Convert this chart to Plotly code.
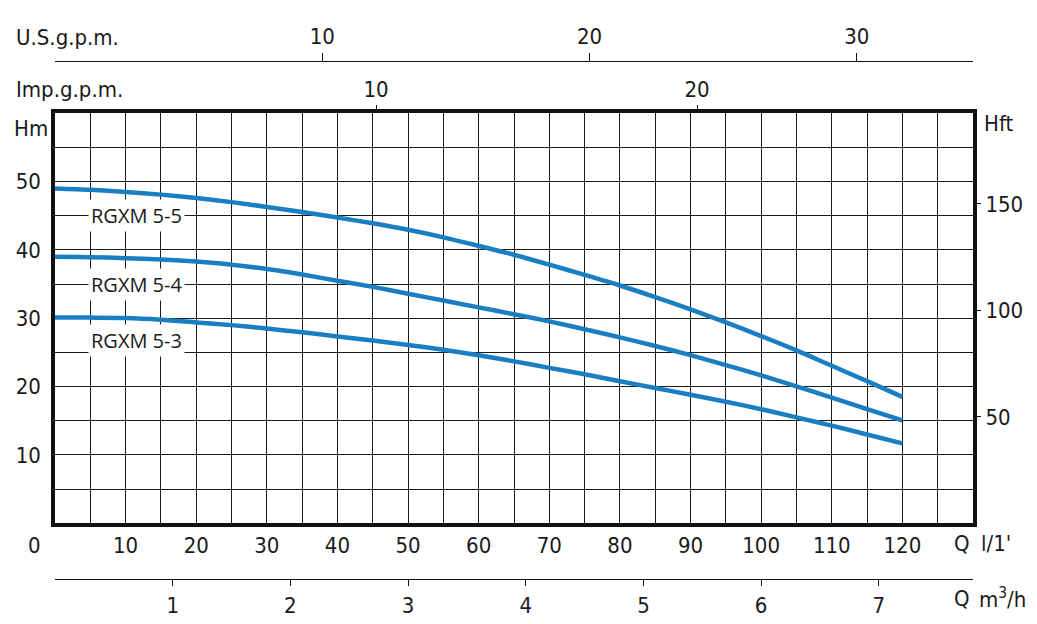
import plotly.graph_objects as go

# ---------------- data ----------------
Q_LMIN = [0, 5, 10, 15, 20, 25, 30, 35, 40, 45, 50, 55, 60, 65, 70, 75, 80, 85, 90, 95, 100, 105, 110, 115, 120]
H_55 = [49.0, 48.8, 48.5, 48.1, 47.6, 47.0, 46.3, 45.55, 44.75, 43.9, 42.95, 41.85, 40.6, 39.3, 37.85, 36.35, 34.8, 33.1, 31.3, 29.4, 27.4, 25.3, 23.05, 20.8, 18.5]
H_54 = [39.0, 38.95, 38.8, 38.6, 38.3, 37.85, 37.2, 36.4, 35.5, 34.6, 33.6, 32.6, 31.6, 30.6, 29.55, 28.4, 27.2, 25.95, 24.6, 23.15, 21.65, 20.05, 18.4, 16.7, 15.05]
H_53 = [30.1, 30.1, 30.05, 29.8, 29.4, 29.0, 28.5, 27.95, 27.35, 26.75, 26.1, 25.4, 24.6, 23.7, 22.75, 21.8, 20.8, 19.8, 18.8, 17.8, 16.7, 15.5, 14.3, 13.0, 11.7]
SERIES_NAMES = ["RGXM 5-5", "RGXM 5-4", "RGXM 5-3"]
LABEL_X = [11.6, 11.6, 11.6]
LABEL_Y = [45.0, 35.0, 26.7]

Q_LABELS = [10, 20, 30, 40, 50, 60, 70, 80, 90, 100, 110, 120]
HM_LABELS = [10, 20, 30, 40, 50]
HFT_TICKS = [50, 100, 150]
USGPM_TICKS = [10, 20, 30]
IMPGPM_TICKS = [10, 20]
M3H_TICKS = [1, 2, 3, 4, 5, 6, 7]

Q_MAX = 130          # l/min
H_MAX = 60           # m
HFT_MAX = 192.5      # ft at top of plot
US_GAL = 3.785
IMP_GAL = 4.546

# ---------------- style ----------------
W, H = 1037, 624
ML, MR = 55, 64
PLOT_TOP, PLOT_BOT = 113.3, 523.3
NUMFONT = dict(family="DejaVu Sans Condensed, DejaVu Sans", size=22, color="#1a1a1a")
LBLFONT = dict(family="Open Sans, Noto Sans", size=20, color="#1a1a1a")
BLUE = "#1a7ec3"
GRID = "#1a1a1a"
PW = W - ML - MR


def px(xp):
    return (xp - ML) / PW


def py(yp):
    return (H - yp) / H


fig = go.Figure()
for name, hv in zip(SERIES_NAMES, [H_55, H_54, H_53]):
    fig.add_trace(go.Scatter(x=Q_LMIN, y=hv, mode="lines", name=name,
                             line=dict(color=BLUE, width=4.5, shape="spline", smoothing=0.8),
                             hoverinfo="skip", showlegend=False))

# invisible traces so secondary axes render
fig.add_trace(go.Scatter(x=[0], y=[0], xaxis="x2", yaxis="y", mode="none", showlegend=False, hoverinfo="skip"))
fig.add_trace(go.Scatter(x=[0], y=[0], xaxis="x3", yaxis="y", mode="none", showlegend=False, hoverinfo="skip"))
fig.add_trace(go.Scatter(x=[0], y=[0], xaxis="x4", yaxis="y", mode="none", showlegend=False, hoverinfo="skip"))
fig.add_trace(go.Scatter(x=[0], y=[0], xaxis="x", yaxis="y2", mode="none", showlegend=False, hoverinfo="skip"))

grid_q = list(range(0, Q_MAX + 1, 5))
grid_h = list(range(0, H_MAX + 1, 5))

ydom = [py(PLOT_BOT), py(PLOT_TOP)]

fig.update_layout(
    width=W, height=H,
    margin=dict(l=ML, r=MR, t=0, b=0),
    paper_bgcolor="white", plot_bgcolor="white",
    xaxis=dict(range=[0, Q_MAX], tickmode="array", tickvals=grid_q,
               ticktext=[str(v) if v in Q_LABELS else "" for v in grid_q],
               showgrid=True, gridcolor=GRID, gridwidth=1,
               showline=True, linecolor="#111", linewidth=3.5, mirror=True,
               ticks="", ticklen=0,
               tickfont=NUMFONT, zeroline=False, fixedrange=True),
    yaxis=dict(range=[0, H_MAX], domain=ydom, tickmode="array", tickvals=grid_h,
               ticktext=[str(v) if v in HM_LABELS else "" for v in grid_h],
               showgrid=True, gridcolor=GRID, gridwidth=1,
               showline=True, linecolor="#111", linewidth=3.5, mirror=True,
               ticks="outside", ticklen=6, tickcolor="rgba(0,0,0,0)",
               tickfont=NUMFONT, zeroline=False, fixedrange=True),
    yaxis2=dict(range=[0, HFT_MAX], overlaying="y", side="right", anchor="x",
                tickmode="array", tickvals=HFT_TICKS, ticks="outside", ticklen=7,
                tickcolor="#111", tickwidth=1.2, showgrid=False, showline=False,
                zeroline=False, tickfont=NUMFONT, fixedrange=True),
    xaxis2=dict(range=[0, Q_MAX / US_GAL], overlaying="x", side="top", anchor="free",
                position=py(61.3), tickmode="array", tickvals=USGPM_TICKS,
                ticks="outside", ticklen=8, tickcolor="#111", tickwidth=1.2,
                showline=True, linecolor="#111", linewidth=1.3, showgrid=False,
                zeroline=False, tickfont=NUMFONT, fixedrange=True),
    xaxis3=dict(range=[0, Q_MAX / IMP_GAL], overlaying="x", side="top", anchor="y",
                tickmode="array", tickvals=IMPGPM_TICKS,
                ticks="outside", ticklen=7, tickcolor="#111", tickwidth=1.2,
                showline=False, showgrid=False, zeroline=False,
                tickfont=NUMFONT, fixedrange=True),
    xaxis4=dict(range=[0, Q_MAX * 60 / 1000], overlaying="x", side="bottom", anchor="free",
                position=py(579.3), tickmode="array", tickvals=M3H_TICKS,
                ticks="outside", ticklen=6, tickcolor="#111", tickwidth=1.2,
                showline=True, linecolor="#111", linewidth=1.3, showgrid=False,
                zeroline=False, tickfont=NUMFONT, fixedrange=True),
)

ann = []
for name, lx, ly in zip(SERIES_NAMES, LABEL_X, LABEL_Y):
    ann.append(dict(x=lx, y=ly, xref="x", yref="y", text=name, showarrow=False,
                    font=LBLFONT, bgcolor="white", borderpad=2))


def txt(t, xp, yp, xanchor="left"):
    ann.append(dict(x=px(xp), y=py(yp), xref="paper", yref="paper", text=t, showarrow=False,
                    xanchor=xanchor, yanchor="middle", font=NUMFONT))


txt("U.S.g.p.m.", 14, 37)
txt("Imp.g.p.m.", 14, 89)
txt("Hm", 12, 128)
txt("Hft", 982, 124)
txt("0", 34, 545, "center")
txt("Q", 952, 543)
txt("l/1'", 979, 543)
txt("Q", 952, 598)
txt("m<sup>3</sup>/h", 977, 598)
fig.update_layout(annotations=ann)

fig.write_html("out.html", config={"displayModeBar": False},
               post_script="document.body.style.margin='0px';")
